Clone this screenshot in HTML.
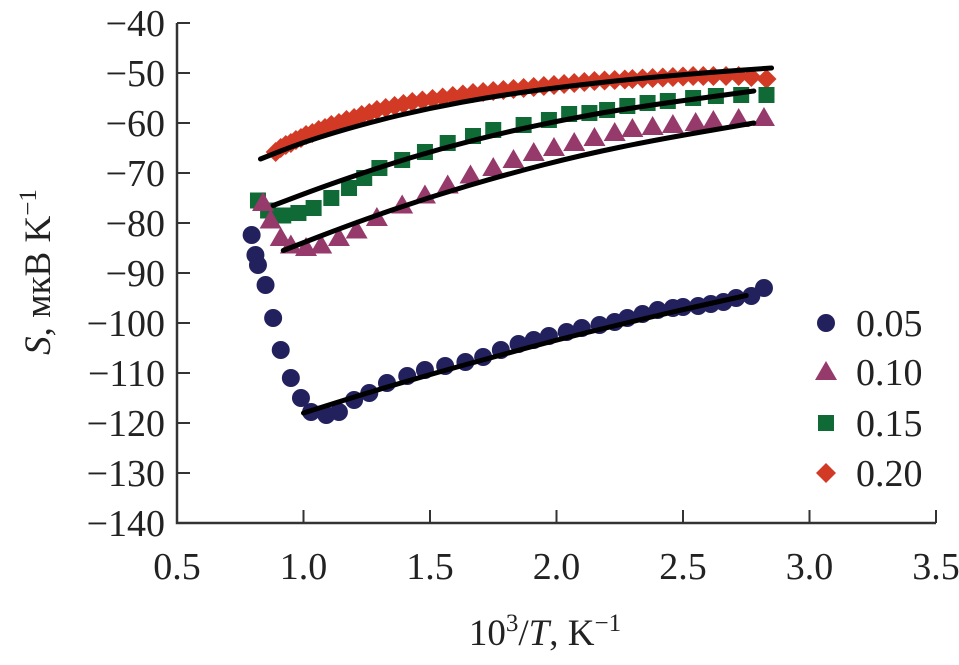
<!DOCTYPE html>
<html><head><meta charset="utf-8"><style>
body{margin:0;background:#fff;}
svg text{font-family:"Liberation Serif",serif;fill:#222;}
</style></head><body>
<svg id="chart" width="959" height="660" viewBox="0 0 959 660" xmlns="http://www.w3.org/2000/svg">
<g id="axes"></g>
<g id="marks"></g>
<g id="legend"></g>
<text transform="translate(50,272) rotate(-90)" text-anchor="middle" font-size="37"><tspan font-style="italic">S</tspan>, мкВ K<tspan dy="-14" font-size="25">−1</tspan></text>
<text x="545" y="645" text-anchor="middle" font-size="37">10<tspan dy="-14" font-size="25">3</tspan><tspan dy="14">/</tspan><tspan font-style="italic">T</tspan>, K<tspan dy="-14" font-size="25">−1</tspan></text>
</svg>
<script>
const xTicks=[0.5,1.0,1.5,2.0,2.5,3.0,3.5];
const xTickLabels=["0.5","1.0","1.5","2.0","2.5","3.0","3.5"];
const yTicks=[-40,-50,-60,-70,-80,-90,-100,-110,-120,-130,-140];
const yTickLabels=["−40","−50","−60","−70","−80","−90","−100","−110","−120","−130","−140"];
const seriesNames=["0.05","0.10","0.15","0.20"];
const x005=[0.795,0.81,0.82,0.85,0.88,0.91,0.95,0.99,1.03,1.09,1.14,1.2,1.26,1.33,1.41,1.48,1.56,1.64,1.71,1.78,1.85,1.91,1.97,2.04,2.1,2.17,2.23,2.28,2.34,2.4,2.46,2.5,2.56,2.61,2.66,2.71,2.77,2.82];
const y005=[-82.4,-86.4,-88.4,-92.4,-99,-105.4,-111,-115,-117.8,-118.4,-117.8,-115.4,-114,-112,-110.6,-109.4,-108.6,-107.8,-106.8,-105.4,-104.2,-103.4,-102.6,-101.8,-101,-100.4,-99.8,-99,-98.2,-97.4,-97,-96.8,-96.6,-96.2,-95.8,-95,-94.6,-93];
const x010=[0.84,0.87,0.91,0.95,1.01,1.07,1.14,1.21,1.29,1.39,1.48,1.57,1.66,1.75,1.83,1.91,1.99,2.07,2.15,2.23,2.3,2.38,2.46,2.55,2.62,2.72,2.82];
const y010=[-76,-79.5,-83,-84.5,-85,-84.5,-83,-81.5,-79,-76.5,-74.5,-72.5,-70.5,-69,-67.4,-66,-65,-64,-63,-62,-61.2,-60.8,-60.4,-60,-59.6,-59.2,-59];
const x015=[0.82,0.86,0.92,0.98,1.04,1.11,1.18,1.24,1.3,1.39,1.48,1.57,1.67,1.75,1.87,1.97,2.05,2.13,2.2,2.28,2.36,2.44,2.54,2.63,2.73,2.83];
const y015=[-75.5,-77.5,-78.5,-78,-77,-75,-73,-71,-69,-67.4,-65.8,-64,-62.6,-61.4,-60.4,-59.4,-58.2,-58,-57.4,-56.6,-56,-55.6,-55,-54.6,-54.4,-54.4];
const x020=[0.89,0.91,0.93,0.95,0.97,0.99,1.01,1.035,1.06,1.085,1.11,1.14,1.17,1.2,1.23,1.26,1.29,1.325,1.36,1.395,1.43,1.47,1.51,1.55,1.59,1.63,1.67,1.71,1.75,1.79,1.83,1.87,1.91,1.95,1.99,2.03,2.07,2.11,2.15,2.19,2.23,2.27,2.3,2.34,2.38,2.42,2.46,2.5,2.54,2.58,2.62,2.67,2.72,2.77,2.83];
const y020=[-65.8,-65,-64.4,-64,-63.4,-63,-62.4,-62,-61.4,-61,-60.4,-60,-59.4,-59,-58.4,-58,-57.4,-57,-56.6,-56.2,-55.8,-55.5,-55.2,-54.9,-54.6,-54.3,-54,-53.8,-53.6,-53.4,-53.2,-53,-52.8,-52.6,-52.4,-52.2,-52,-51.8,-51.6,-51.5,-51.4,-51.3,-51.2,-51.1,-51,-50.9,-50.8,-50.7,-50.6,-50.6,-50.6,-50.6,-50.6,-50.8,-51.2];
const fitX005=[1.0,1.25,1.5,1.75,2.0,2.25,2.5,2.75];
const fitY005=[-118,-114,-110.3,-106.8,-103.4,-100.3,-97.3,-94.5];
const fitX010=[0.92,1.2,1.5,1.8,2.1,2.4,2.78];
const fitY010=[-85.5,-80,-74.8,-70.3,-66.4,-63.3,-60];
const fitX015=[0.88,1.1,1.4,1.7,2.0,2.3,2.78];
const fitY015=[-76.5,-72.3,-67.2,-63,-59.6,-56.9,-53.6];
const fitX020=[0.83,1.0,1.25,1.5,1.75,2.0,2.3,2.6,2.85];
const fitY020=[-67.2,-63.8,-60,-57,-54.7,-52.9,-51.2,-49.9,-49];
const colors=["#22215e","#963a6c","#0f6a36","#d23a26"];

const X0=177,X1=936,Y0=23,Y1=523;
const sx=v=>X0+(v-0.5)/3*(X1-X0);
const sy=v=>Y0+(-40-v)/100*(Y1-Y0);
const NS="http://www.w3.org/2000/svg";
function mk(tag,attrs,parent){const e=document.createElementNS(NS,tag);for(const k in attrs)e.setAttribute(k,attrs[k]);parent.appendChild(e);return e;}
const axes=document.getElementById('axes'),marks=document.getElementById('marks'),legend=document.getElementById('legend');
let a=mk('path',{d:`M${X0},${Y0} V${Y1} H${X1}`,fill:'none',stroke:'#333','stroke-width':2.5},axes);

xTicks.forEach((t,i)=>{const x=sx(t);
 if(i>0){let l=mk('line',{x1:x,x2:x,y1:Y1,y2:Y1-13,stroke:'#333','stroke-width':2},axes);}
 let tx=mk('text',{x:x,y:Y1+56,'text-anchor':'middle','font-size':38},axes);tx.textContent=xTickLabels[i];
 });
yTicks.forEach((t,i)=>{const y=sy(t);
 let l=mk('line',{x1:X0,x2:X0+13,y1:y,y2:y,stroke:'#333','stroke-width':2},axes);
 let tx=mk('text',{x:X0-12,y:y+13,'text-anchor':'end','font-size':38},axes);tx.textContent=yTickLabels[i];
 });
function marker(kind,cx,cy,col,parent){
 let e;
 if(kind==0)e=mk('circle',{cx:cx,cy:cy,r:9,fill:col},parent);
 else if(kind==1)e=mk('polygon',{points:`${cx},${cy-11} ${cx+11},${cy+8} ${cx-11},${cy+8}`,fill:col},parent);
 else if(kind==2)e=mk('rect',{x:cx-8,y:cy-8,width:16,height:16,fill:col},parent);
 else e=mk('polygon',{points:`${cx},${cy-10} ${cx+10},${cy} ${cx},${cy+10} ${cx-10},${cy}`,fill:col},parent);
 return e;}
const XS=[x005,x010,x015,x020],YS=[y005,y010,y015,y020];
const FX=[fitX005,fitX010,fitX015,fitX020],FY=[fitY005,fitY010,fitY015,fitY020];
const names=['s005','s010','s015','s020'];
[3,2,1,0].forEach(k=>{
 const g=mk('g',{},marks);
 XS[k].forEach((v,i)=>{const m=marker(k,sx(v),sy(YS[k][i]),colors[k],g);});
});
for(let k=0;k<4;k++){
 let d='';FX[k].forEach((v,i)=>{const px=sx(v),py=sy(FY[k][i]);
  if(i==0)d+=`M${px},${py}`;else{const pv=sx(FX[k][i-1]),pyv=sy(FY[k][i-1]);d+=` Q${pv},${pyv} ${(pv+px)/2},${(pyv+py)/2}`;}
  if(i==FX[k].length-1)d+=` L${px},${py}`;});
 const p=mk('path',{d:d,fill:'none',stroke:'#000','stroke-width':5,'stroke-linecap':'round'},marks);
 
}
const ly=[323,372,423,473];
seriesNames.forEach((n,k)=>{
 const m=marker(k,826,ly[k],colors[k],legend);
 const t=mk('text',{x:856,y:ly[k]+13,'font-size':38},legend);t.textContent=n;
 
});
</script>
</body></html>
